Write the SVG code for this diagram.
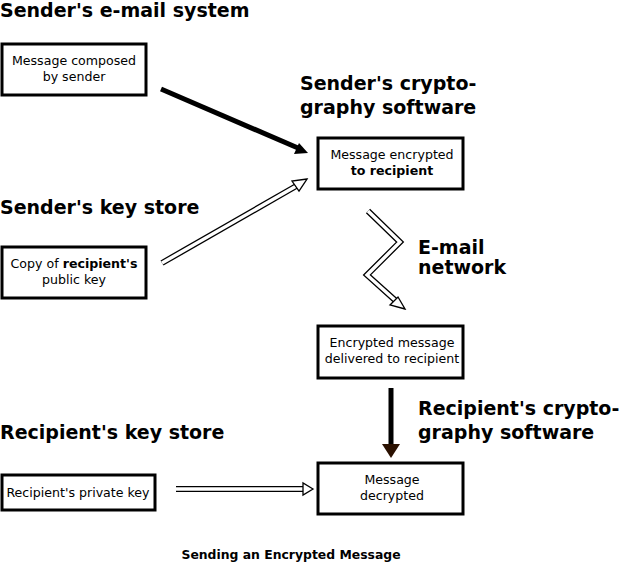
<svg xmlns="http://www.w3.org/2000/svg" width="623" height="563" viewBox="0 0 623 563">
<style>
.box{fill:#fff;stroke:#000;stroke-width:3}
.t{font-family:"DejaVu Sans",sans-serif;font-size:12.6px;text-anchor:middle}
.h{font-family:"DejaVu Sans",sans-serif;font-size:19px;font-weight:bold}
.o{fill:none;stroke:#000;stroke-width:6;stroke-linejoin:miter}
.i{fill:none;stroke:#fff;stroke-width:3.4;stroke-linejoin:miter}
.hh{fill:#fff;stroke:#000;stroke-width:1.3}
</style>
<rect width="623" height="563" fill="#fff"/>
<text class="h" x="0" y="17">Sender's e-mail system</text>
<text class="h" x="300" y="90">Sender's crypto-</text>
<text class="h" x="300" y="114">graphy software</text>
<text class="h" x="0" y="214">Sender's key store</text>
<text class="h" x="418" y="254">E-mail</text>
<text class="h" x="418" y="274">network</text>
<text class="h" x="418" y="415">Recipient's crypto-</text>
<text class="h" x="418" y="439">graphy software</text>
<text class="h" x="0" y="439">Recipient's key store</text>
<text x="291" y="559" style="font-family:'DejaVu Sans',sans-serif;font-size:12.4px;font-weight:bold;text-anchor:middle">Sending an Encrypted Message</text>
<g id="n1"><rect class="box" x="2" y="44" width="144" height="51"/><text class="t" x="74" y="65">Message composed</text><text class="t" x="74" y="81">by sender</text></g>
<g id="n2"><rect class="box" x="318" y="138" width="145" height="51"/><text class="t" x="392" y="159">Message encrypted</text><text class="t" x="392" y="175" font-weight="bold">to recipient</text></g>
<g id="n3"><rect class="box" x="2" y="247" width="144" height="51"/><text class="t" x="74" y="268">Copy of <tspan font-weight="bold">recipient's</tspan></text><text class="t" x="74" y="284">public key</text></g>
<g id="n4"><rect class="box" x="318" y="326" width="145" height="52"/><text class="t" x="392" y="347">Encrypted message</text><text class="t" x="392" y="363">delivered to recipient</text></g>
<g id="n5"><rect class="box" x="2" y="475" width="153" height="35"/><text class="t" x="78" y="497">Recipient's private key</text></g>
<g id="n6"><rect class="box" x="318" y="463" width="145" height="51"/><text class="t" x="392" y="484">Message</text><text class="t" x="392" y="500">decrypted</text></g>
<g id="connectors">
<line x1="161" y1="89" x2="298" y2="148" stroke="#000" stroke-width="5"/>
<polygon points="308,153 294,154 299,143" fill="#000"/>
<polyline class="o" points="162,263 298,185"/><polyline class="i" points="162,263 298,185"/>
<polygon class="hh" points="307,179 292,181 299,191"/>
<polyline class="o" points="368,211 400,242 367,275 396,301"/><polyline class="i" points="368,211 400,242 367,275 396,301"/>
<polygon class="hh" points="405,309 390,305 398,297"/>
<line x1="391" y1="388" x2="391" y2="445" stroke="#000" stroke-width="5"/>
<polygon points="382,444 400,444 391,458" fill="#2a1000"/>
<polyline class="o" points="176,489 303,489"/><polyline class="i" points="176,489 303,489"/>
<polygon class="hh" points="313,489 303,483 303,495"/>
</g>
</svg>
